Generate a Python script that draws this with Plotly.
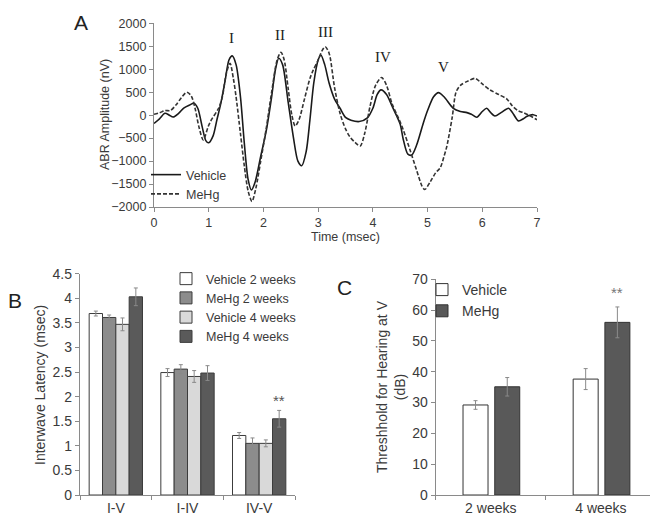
import plotly.graph_objects as go

# ---------------- Panel A data (ABR waveforms) ----------------
t_vehicle = [0.0, 0.1, 0.2, 0.28, 0.35, 0.45, 0.55, 0.65, 0.73, 0.8, 0.88, 0.95, 1.0, 1.08, 1.15, 1.22,
             1.3, 1.37, 1.43, 1.5, 1.58, 1.65, 1.72, 1.78, 1.85, 1.95, 2.05, 2.15, 2.22, 2.28, 2.35,
             2.45, 2.55, 2.63, 2.7, 2.78, 2.85, 2.92, 3.0, 3.05, 3.12, 3.2, 3.3, 3.4, 3.5, 3.6, 3.75,
             3.9, 4.0, 4.08, 4.15, 4.25, 4.35, 4.44, 4.5, 4.56, 4.64, 4.71, 4.8, 4.92, 5.0, 5.11, 5.2,
             5.3, 5.47, 5.6, 5.72, 5.8, 5.9, 6.0, 6.08, 6.15, 6.23, 6.35, 6.48, 6.55, 6.66, 6.75, 6.81,
             6.87, 6.93, 7.0]
amp_vehicle = [-180, -80, 40, 0, -40, 40, 160, 220, 260, 150, -250, -560, -600, -450, -100, 250,
               750, 1200, 1290, 1100, 400, -600, -1400, -1630, -1450, -900, -350, 400, 1000, 1240, 1100,
               300, -500, -1000, -1100, -800, -100, 700, 1200, 1310, 1100, 700, 350, 150, -50, -110, -140,
               -60, 150, 450, 550, 450, 200, -30, -200, -550, -850, -870, -650, -180, 100, 400, 490,
               400, 150, 80, 55, 20, -45, 80, 150, 60, -20, 60, 150, 60, -125, -80, -30,
               0, 10, -20]

t_mehg = [0.0, 0.1, 0.2, 0.3, 0.4, 0.5, 0.6, 0.68, 0.75, 0.82, 0.9, 0.99, 1.05, 1.18, 1.25, 1.32, 1.39,
          1.45, 1.5, 1.58, 1.65, 1.72, 1.79, 1.86, 1.95, 2.05, 2.15, 2.25, 2.32, 2.38, 2.45, 2.52, 2.58,
          2.65, 2.75, 2.85, 2.91, 3.0, 3.07, 3.13, 3.2, 3.3, 3.4, 3.5, 3.58, 3.68, 3.77, 3.85, 3.95, 4.05,
          4.16, 4.25, 4.35, 4.47, 4.55, 4.68, 4.8, 4.9, 4.95, 5.05, 5.15, 5.23, 5.3, 5.35, 5.45, 5.52,
          5.6, 5.75, 5.87, 6.0, 6.14, 6.3, 6.45, 6.55, 6.65, 6.75, 6.85, 7.0]
amp_mehg = [20, 50, 100, 100, 220, 380, 500, 420, 150, -250, -540, -250, -100, 150, 400, 900, 1130,
            800, 400, -400, -1100, -1650, -1880, -1600, -1000, -300, 500, 1200, 1370, 1200, 600, 0, -235,
            -100, 350, 800, 980, 1200, 1400, 1490, 1350, 600, 40, -300, -470, -600, -670, -400, 200, 650,
            820, 650, 250, -70, -300, -760, -1200, -1550, -1620, -1450, -1250, -1150, -900, -690, -50, 500,
            650, 750, 800, 680, 550, 450, 350, 200, 100, 55, 0, -100]

wave_labels = ["I", "II", "III", "IV", "V"]
wave_label_t = [1.42, 2.3, 3.13, 4.18, 5.29]
wave_label_amp = [1670, 1745, 1820, 1260, 1055]

# ---------------- Panel B data (interwave latency) ----------------
intervals = ["I-V", "I-IV", "IV-V"]
b_series = ["Vehicle 2 weeks", "MeHg 2 weeks", "Vehicle 4 weeks", "MeHg 4 weeks"]
b_values = [
    [3.69, 2.49, 1.21],
    [3.61, 2.56, 1.05],
    [3.47, 2.41, 1.05],
    [4.03, 2.48, 1.55],
]
b_errors = [
    [0.05, 0.08, 0.06],
    [0.05, 0.09, 0.11],
    [0.13, 0.12, 0.07],
    [0.18, 0.15, 0.17],
]
b_sig_cats = ["I-V", "IV-V"]
b_sig_y = [4.62, 1.93]

# ---------------- Panel C data (hearing threshold) ----------------
weeks = ["2 weeks", "4 weeks"]
c_series = ["Vehicle", "MeHg"]
c_values = [[29.2, 37.6], [35.1, 56.0]]
c_errors = [[1.4, 3.4], [3.0, 5.0]]
c_sig_cat = "4 weeks"
c_sig_y = 65.6

# ---------------- styling ----------------
FONT = "Liberation Sans, Arial, sans-serif"
TXT = "#3a3a3a"
AX = "#8a8a8a"
# page shows the figure at an 8px offset (body margin); figure fills the rest of the window
OFF = 8
W, H = 650, 510


def px_x(p):
    return (p - OFF) / W


def px_y(p):
    return 1 - (p - OFF) / H


fig = go.Figure()

# Panel A lines
fig.add_trace(go.Scatter(x=t_vehicle, y=amp_vehicle, mode="lines", name="Vehicle",
                         line=dict(color="#1a1a1a", width=1.6, shape="spline", smoothing=0.8),
                         xaxis="x", yaxis="y", legend="legend"))
fig.add_trace(go.Scatter(x=t_mehg, y=amp_mehg, mode="lines", name="MeHg",
                         line=dict(color="#333333", width=1.6, dash="4px,2px", shape="spline", smoothing=0.8),
                         xaxis="x", yaxis="y", legend="legend"))

# Panel B bars
b_fill = ["#ffffff", "#8c8c8c", "#d9d9d9", "#5a5a5a"]
for name, vals, errs, col in zip(b_series, b_values, b_errors, b_fill):
    fig.add_trace(go.Bar(x=intervals, y=vals, name=name,
                         marker=dict(color=col, line=dict(color="#3c3c3c", width=1)),
                         error_y=dict(type="data", array=errs, color="#8a8a8a", thickness=1, width=2),
                         xaxis="x2", yaxis="y2", legend="legend2"))

# Panel C bars
c_fill = ["#ffffff", "#595959"]
c_offset = [-0.252, 0.036]
for name, vals, errs, col, off in zip(c_series, c_values, c_errors, c_fill, c_offset):
    fig.add_trace(go.Bar(x=weeks, y=vals, name=name, width=0.227, offset=off,
                         marker=dict(color=col, line=dict(color="#333333", width=1)),
                         error_y=dict(type="data", array=errs, color="#8a8a8a", thickness=1, width=2),
                         xaxis="x3", yaxis="y3", legend="legend3"))

dom_a_x = [px_x(154), px_x(537)]
dom_a_y = [px_y(207), px_y(23.3)]
dom_b_x = [px_x(80), px_x(295)]
dom_b_y = [px_y(495), px_y(273.7)]
dom_c_x = [px_x(435.7), px_x(656)]
dom_c_y = [px_y(495), px_y(279.2)]

tickfont_a = dict(family=FONT, size=12.5, color=TXT)
tickfont_b = dict(family=FONT, size=14, color=TXT)

base_ax = dict(showgrid=False, zeroline=False, showline=True, linecolor=AX, linewidth=1.3,
               ticks="outside", ticklen=4, tickcolor=AX, tickwidth=1.3, automargin=False)
over_ax = dict(showgrid=False, zeroline=False, showline=False, showticklabels=False,
               ticks="inside", ticklen=4, tickcolor=AX, tickwidth=1.3, automargin=False)

fig.update_layout(
    width=W, height=H, autosize=False,
    margin=dict(l=0, r=0, t=0, b=0, pad=0, autoexpand=False),
    paper_bgcolor="white", plot_bgcolor="white",
    font=dict(family=FONT, color=TXT),
    barmode="group", bargap=0.256, bargroupgap=0,
    # Panel A axes
    xaxis=dict(**base_ax, domain=dom_a_x, anchor="y", range=[0, 7], tickvals=list(range(8)),
               tickfont=tickfont_a),
    yaxis=dict(**base_ax, domain=dom_a_y, anchor="x", range=[-2000, 2000], dtick=500,
               tickfont=tickfont_a),
    xaxis4=dict(**over_ax, overlaying="x", anchor="y", range=[0, 7], tickvals=list(range(8))),
    yaxis4=dict(**over_ax, overlaying="y", anchor="x", range=[-2000, 2000], dtick=500),
    # Panel B axes
    xaxis2=dict(**base_ax, domain=dom_b_x, anchor="y2", type="category", range=[-0.5, 2.5],
                tickson="boundaries", tickfont=tickfont_b),
    yaxis2=dict(**base_ax, domain=dom_b_y, anchor="x2", range=[0, 4.5], dtick=0.5,
                tickfont=tickfont_b),
    xaxis5=dict(**over_ax, overlaying="x2", anchor="y2", range=[-0.5, 2.5], tickvals=[0.5, 1.5, 2.5]),
    yaxis5=dict(**over_ax, overlaying="y2", anchor="x2", range=[0, 4.5], dtick=0.5),
    # Panel C axes
    xaxis3=dict(**base_ax, domain=dom_c_x, anchor="y3", type="category", range=[-0.5, 1.5],
                tickson="boundaries", tickfont=tickfont_b),
    yaxis3=dict(**base_ax, domain=dom_c_y, anchor="x3", range=[0, 70], dtick=10,
                tickfont=tickfont_b),
    xaxis6=dict(**over_ax, overlaying="x3", anchor="y3", range=[-0.5, 1.5], tickvals=[0.5, 1.5]),
    yaxis6=dict(**over_ax, overlaying="y3", anchor="x3", range=[0, 70], dtick=10),
    legend=dict(x=px_x(146), y=px_y(160), xanchor="left", yanchor="top", bgcolor="rgba(0,0,0,0)",
                font=dict(family=FONT, size=12.5, color=TXT), tracegroupgap=0, itemwidth=30),
    legend2=dict(x=px_x(166), y=px_y(264), xanchor="left", yanchor="top", bgcolor="rgba(0,0,0,0)",
                 font=dict(family=FONT, size=12.5, color=TXT), tracegroupgap=0, itemwidth=30),
    legend3=dict(x=px_x(422), y=px_y(274), xanchor="left", yanchor="top", bgcolor="rgba(0,0,0,0)",
                 font=dict(family=FONT, size=14, color=TXT), tracegroupgap=0, itemwidth=30),
)

annotations = []


def note(x, y, text, xref="paper", yref="paper", **kw):
    d = dict(x=x, y=y, xref=xref, yref=yref, text=text, showarrow=False,
             xanchor="center", yanchor="middle")
    d.update(kw)
    annotations.append(d)


# Roman numeral wave labels
for lab, tx, ty in zip(wave_labels, wave_label_t, wave_label_amp):
    note(tx, ty, lab, xref="x", yref="y",
         font=dict(family="Liberation Serif, Times New Roman, serif", size=15, color="#222"))
# Axis titles
note(px_x(345), px_y(237), "Time (msec)", font=dict(size=12.5, color=TXT))
note(px_x(105), px_y(115), "ABR Amplitude (nV)", textangle=-90, font=dict(size=12.5, color=TXT))
note(px_x(40), px_y(385), "Interwave Latency (msec)", textangle=-90, font=dict(size=14, color=TXT))
note(px_x(391), px_y(387), "Threshhold for Hearing at V<br>(dB)", textangle=-90,
     font=dict(size=14, color=TXT))
# Significance marks
for cat, yy in zip(b_sig_cats, b_sig_y):
    note(cat, yy, "**", xref="x2", yref="y2", xshift=20, font=dict(size=15, color="#555"))
note(c_sig_cat, c_sig_y, "**", xref="x3", yref="y3", xshift=16, font=dict(size=15, color="#777"))
# Panel letters
for lab, xx, yy in [("A", 81, 22), ("B", 15, 300), ("C", 344, 287)]:
    note(px_x(xx), px_y(yy), lab, font=dict(size=21, color="#222"))

fig.update_layout(annotations=annotations)

fig.write_html("out.html")
